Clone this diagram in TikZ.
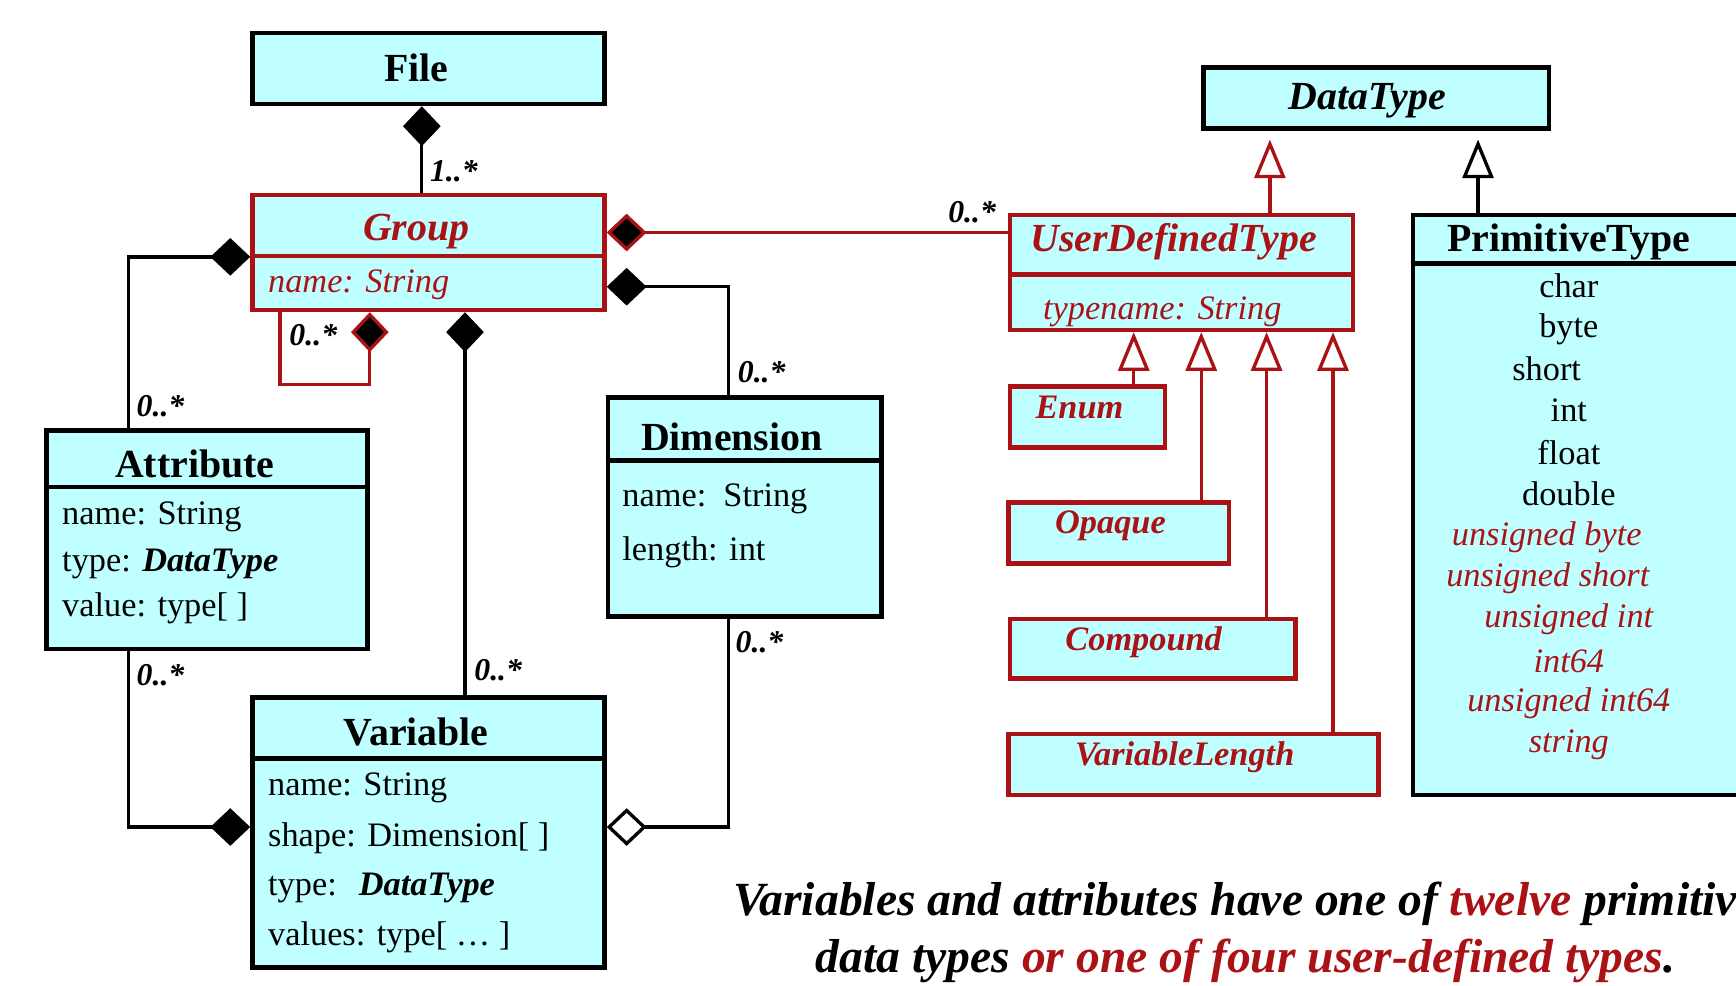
\documentclass[tikz,border=0pt]{standalone}
\usepackage{fontspec}
\setmainfont{Liberation Serif}
\usetikzlibrary{arrows.meta}
\definecolor{cy}{RGB}{191,255,255}
\definecolor{rd}{RGB}{170,18,22}
\begin{document}
\begin{tikzpicture}[x=1pt,y=-1pt,
 bbox/.style={draw=black,fill=cy,line width=4pt,inner sep=0pt},
 rbox/.style={bbox,draw=rd},
 conn/.style={line width=3pt,draw=black},
 rconn/.style={line width=3pt,draw=rd},
 compo/.style={-{Diamond[length=36pt,width=34pt,fill=black]}},
 aggr/.style={-{Diamond[length=36pt,width=34pt,open]}},
 gener/.style={-{Triangle[length=35pt,width=28pt,open]}},
 ttl/.style={inner sep=0pt,font=\fontsize{36}{40}\selectfont\bfseries},
 ttli/.style={inner sep=0pt,font=\fontsize{36}{40}\selectfont\bfseries\itshape},
 dttl/.style={inner sep=0pt,text=rd,font=\fontsize{36}{40}\selectfont\bfseries\itshape},
 dsub/.style={inner sep=0pt,text=rd,font=\fontsize{31}{34}\selectfont\bfseries\itshape},
 attrib/.style={inner sep=0pt,anchor=west,font=\fontsize{31}{34}\selectfont},
 dattr/.style={inner sep=0pt,anchor=west,text=rd,font=\fontsize{31}{34}\selectfont\itshape},
 primt/.style={inner sep=0pt,font=\fontsize{36}{40}\selectfont\bfseries},
 primk/.style={inner sep=0pt,font=\fontsize{31}{34}\selectfont},
 primr/.style={inner sep=0pt,text=rd,font=\fontsize{31}{34}\selectfont\itshape},
 mult/.style={inner sep=0pt,font=\fontsize{28.7}{30}\selectfont\bfseries\itshape},
 capt/.style={inner sep=0pt,font=\fontsize{43}{50}\selectfont\bfseries\itshape}]
\useasboundingbox (0,0) rectangle (1568,890);
\fill[white] (0,0) rectangle (1568,890);
\clip (0,0) rectangle (1568,890);

% ---------- boxes ----------
\node[bbox,minimum width=318pt,minimum height=64pt] (file) at (387,62) {};
\node[ttl] (tfile) at (376,61) {File};

\node[rbox,minimum width=318pt,minimum height=104pt] (group) at (387,228) {};
\draw[rd,line width=4pt] ([yshift=-3pt]group.west) -- ([yshift=-3pt]group.east);
\node[dttl] (tgroup) at (376,209) {Group};
\node[dattr] (agroup) at (242,257) {name: String};

\node[bbox,minimum width=290pt,minimum height=197pt] (attr) at (187,487.5) {};
\draw[line width=4pt] ([yshift=47.5pt]attr.west) -- ([yshift=47.5pt]attr.east);
\node[ttl] (tattr) at (176,419) {Attribute};
\node[attrib] (aattr1) at (56,467) {name: String};
\node[attrib] (aattr2) at (56,509) {type: \textbf{\textit{DataType}}};
\node[attrib] (aattr3) at (56,549) {value: type[ ]};

\node[bbox,minimum width=247pt,minimum height=198pt] (dim) at (672.5,458) {};
\draw[line width=4pt] ([yshift=42pt]dim.west) -- ([yshift=42pt]dim.east);
\node[ttl] (tdim) at (661,395) {Dimension};
\node[attrib] (adim1) at (562,451) {name:\ \ String};
\node[attrib] (adim2) at (562,499) {length: int};

\node[bbox,minimum width=318pt,minimum height=244pt] (var) at (387,752) {};
\draw[line width=4pt] ([yshift=67pt]var.west) -- ([yshift=67pt]var.east);
\node[ttl] (tvar) at (376,661) {Variable};
\node[attrib] (avar1) at (242,712) {name: String};
\node[attrib] (avar2) at (242,757) {shape: Dimension[ ]};
\node[attrib] (avar3) at (242,802) {type:\hspace{20pt}\textbf{\textit{DataType}}};
\node[attrib] (avar4) at (242,847) {values: type[ … ]};

\node[bbox,minimum width=312pt,minimum height=55pt] (dtype) at (1243,88.5) {};
\node[ttli] (tdtype) at (1235,91) {DataType};

\node[rbox,minimum width=310pt,minimum height=104pt] (udt) at (1067,246) {};
\draw[rd,line width=4pt] ([yshift=-2pt]udt.west) -- ([yshift=-2pt]udt.east);
\node[dttl] (tudt) at (1060,218) {UserDefinedType};
\node[dattr] (audt) at (942,282) {typename: String};

\node[bbox,minimum width=424pt,minimum height=524pt] (prim) at (1488,456) {};
\draw[line width=4pt] ([yshift=218pt]prim.west) -- ([yshift=218pt]prim.east);
\node[primt] (tprim) at (1417,219) {PrimitiveType};
\node[primk] (p1) at (1417,258) {char};
\node[primk] (p2) at (1417,297) {byte};
\node[primk] (p3) at (1397,333) {short};
\node[primk] (p4) at (1417,371) {int};
\node[primk] (p5) at (1417,409) {float};
\node[primk] (p6) at (1417,446) {double};
\node[primr] (p7) at (1397,485) {unsigned byte};
\node[primr] (p8) at (1398,522) {unsigned short};
\node[primr] (p9) at (1417,559) {unsigned int};
\node[primr] (p10) at (1417,597) {int64};
\node[primr] (p11) at (1417,635) {unsigned int64};
\node[primr] (p12) at (1417,673) {string};

\node[rbox,minimum width=140pt,minimum height=55pt] (enum) at (982,376.5) {};
\node[dsub] (tenum) at (975,368) {Enum};
\node[rbox,minimum width=199pt,minimum height=55pt] (opaque) at (1010.5,481.5) {};
\node[dsub] (topaque) at (1003,475) {Opaque};
\node[rbox,minimum width=258pt,minimum height=54pt] (compound) at (1041,586) {};
\node[dsub] (tcompound) at (1033,580) {Compound};
\node[rbox,minimum width=334pt,minimum height=55pt] (varlen) at (1078,690.5) {};
\node[dsub] (tvarlen) at (1070,684) {VariableLength};

% ---------- connectors ----------
\draw[conn,compo] ([xshift=-6pt]group.north) -- ([xshift=-6pt]file.south);
\draw[rconn,compo] ([xshift=-134pt]group.south) -- ++(0,65) -| ([xshift=-53pt]group.south);
\draw[conn,compo] ([xshift=33pt]var.north) -- ([xshift=33pt]group.south);
\draw[rconn,compo] ([yshift=36pt]udt.west) -- ([yshift=18pt]group.east);
\draw[conn,compo] ([xshift=-14.5pt]dim.north) |- ([yshift=-31pt]group.east);
\draw[conn,compo] ([xshift=-71pt]attr.north) |- ([yshift=-4pt]group.west);
\draw[conn,compo] ([xshift=-71pt]attr.south) |- ([yshift=5pt]var.west);
\draw[conn,aggr] ([xshift=-14.5pt]dim.south) |- ([yshift=5pt]var.east);
\draw[rconn,gener] ([xshift=80pt]udt.north) -- ([xshift=-96pt,yshift=-8pt]dtype.south);
\draw[conn,gener] ([xshift=-153pt]prim.north) -- ([xshift=92pt,yshift=-8pt]dtype.south);
\draw[rconn,gener] ([xshift=42pt]enum.north) -- ([xshift=-43pt]udt.south);
\draw[rconn,gener] ([xshift=74.5pt]opaque.north) -- ([xshift=18pt]udt.south);
\draw[rconn,gener] ([xshift=103pt]compound.north) -- ([xshift=77pt]udt.south);
\draw[rconn,gener] ([xshift=126pt]varlen.north) -- ([xshift=137pt]udt.south);

% ---------- multiplicities ----------
\node[mult] (m1) at (410,155) {1..*};
\node[mult] (m2) at (878,192) {0..*};
\node[mult] (m3) at (145,367) {0..*};
\node[mult] (m4) at (688,336) {0..*};
\node[mult] (m5) at (283,303) {0..*};
\node[mult] (m6) at (450,605) {0..*};
\node[mult] (m7) at (145,610) {0..*};
\node[mult] (m8) at (686,580) {0..*};

% ---------- caption ----------
\node[capt] (cap1) at (1125,816) {Variables and attributes have one of \textcolor{rd}{twelve} primitive};
\node[capt] (cap2) at (1125,868) {data types \textcolor{rd}{or one of four user-defined types}.};
\end{tikzpicture}
\end{document}
